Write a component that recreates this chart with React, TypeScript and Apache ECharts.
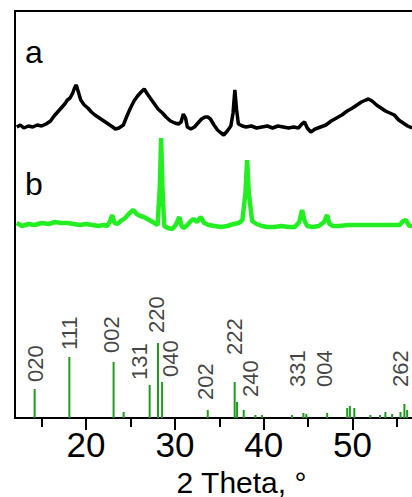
import React, { useEffect, useRef } from 'react';
import * as echarts from 'echarts';

// Curve a (black) – 2θ and offset intensity
const aTheta = [12.2, 12.6, 13.0, 13.5, 14.0, 14.5, 15.0, 15.5, 16.0, 16.4, 16.8, 17.2, 17.6, 17.9, 18.2, 18.5, 18.7, 18.9, 19.1, 19.4, 19.8, 20.2, 20.6, 21.0, 21.5, 22.0, 22.5, 23.0, 23.3, 23.7, 24.2, 24.6, 25.0, 25.4, 25.8, 26.2, 26.55, 26.9, 27.3, 27.7, 28.1, 28.6, 29.0, 29.5, 30.0, 30.4, 30.7, 30.95, 31.2, 31.4, 31.8, 32.2, 32.6, 33.0, 33.4, 33.7, 34.0, 34.4, 34.8, 35.2, 35.5, 35.9, 36.3, 36.55, 36.75, 36.95, 37.15, 37.6, 38.0, 38.6, 39.2, 39.8, 40.4, 41.0, 41.6, 42.2, 42.8, 43.4, 43.9, 44.3, 44.6, 44.9, 45.3, 45.8, 46.4, 47.0, 47.6, 48.2, 48.8, 49.4, 50.0, 50.5, 51.0, 51.5, 51.8, 52.2, 52.7, 53.2, 53.7, 54.2, 54.7, 55.2, 55.7, 56.2, 56.7];
const aIntensity = [291, 293, 290, 292, 291, 293, 292, 294, 297, 302, 306, 310, 314, 318, 320, 325, 330, 333, 327, 318, 313, 310, 306, 303, 300, 297, 294, 291, 289, 290, 293, 302, 310, 317, 322, 326, 329, 324, 319, 314, 309, 305, 301, 297, 295, 294, 296, 304, 300, 291, 289, 291, 295, 299, 301, 301, 299, 293, 288, 285, 283, 287, 292, 305, 328, 308, 294, 292, 291, 292, 290, 291, 292, 290, 292, 291, 290, 291, 290, 294, 296, 290, 286, 289, 291, 293, 297, 300, 303, 307, 310, 313, 316, 318, 319, 317, 313, 310, 307, 305, 303, 298, 295, 292, 290];

// Curve b (green)
const bTheta = [12.2, 12.8, 13.5, 14.2, 15.0, 15.8, 16.5, 17.2, 17.9, 18.6, 19.3, 20.0, 20.7, 21.4, 22.0, 22.4, 22.7, 22.95, 23.2, 23.5, 23.9, 24.4, 24.8, 25.3, 25.7, 26.1, 26.5, 26.9, 27.3, 27.7, 28.05, 28.3, 28.45, 28.6, 28.8, 29.2, 29.7, 30.1, 30.5, 30.75, 31.0, 31.4, 31.8, 32.1, 32.5, 32.9, 33.3, 33.8, 34.5, 35.2, 35.9, 36.6, 37.2, 37.6, 37.95, 38.13, 38.32, 38.7, 39.2, 39.8, 40.4, 41.2, 42.0, 42.8, 43.5, 44.0, 44.32, 44.6, 44.9, 45.5, 46.2, 46.8, 47.14, 47.4, 47.8, 48.5, 49.5, 50.5, 51.5, 52.5, 53.5, 54.5, 55.3, 55.7, 56.0, 56.4, 56.7];
const bIntensity = [195, 192, 194, 193, 195, 194, 196, 195, 195, 194, 193, 194, 193, 192, 193, 192, 197, 203, 195, 194, 197, 200, 204, 208, 204, 202, 201, 199, 197, 195, 193, 230, 280, 230, 192, 190, 189, 193, 201, 192, 190, 193, 197, 199, 196, 201, 195, 193, 192, 191, 192, 194, 195, 198, 225, 258, 225, 197, 194, 192, 191, 191, 192, 191, 191, 196, 208, 197, 192, 191, 192, 196, 203, 194, 192, 192, 193, 193, 193, 193, 193, 193, 193, 197, 198, 192, 192];

// Reference pattern sticks
const stickTheta = [14.21, 18.12, 23.1, 24.23, 27.16, 28.1, 28.56, 33.7, 36.73, 37.0, 37.75, 39.07, 39.8, 43.2, 44.47, 44.8, 47.14, 49.4, 49.7, 50.2, 52.0, 53.1, 53.7, 54.46, 55.4, 55.84, 56.15];
const stickHeight = [29, 61, 56, 6, 33, 75, 36, 8, 36, 16, 8, 3, 3, 3, 5, 4, 5, 10, 12, 10, 3, 3, 6, 4, 6, 14, 8];

// hkl labels
const hklLabels = ['020', '111', '002', '131', '220', '040', '202', '222', '240', '331', '004', '262'];
const hklTheta = [14.29, 18.12, 22.85, 26.0, 27.9, 29.5, 33.4, 36.7, 38.5, 43.8, 46.9, 55.35];
const hklBase = [36, 68, 65, 38, 85, 41, 18, 63, 21, 31, 31, 31];

const majorTickLabels = [20, 30, 40, 50];
const majorTicks = [20, 30, 40, 50, 60];
const minorTicks = [15, 25, 35, 45, 55];
const panelLabels = ['a', 'b'];

export default function App() {
  const ref = useRef<HTMLDivElement>(null);
  useEffect(() => {
    const chart = echarts.init(ref.current!, null, { renderer: 'svg' });
    const font = "'Liberation Sans', Arial, sans-serif";
    chart.setOption({
      animation: false,
      grid: {
        left: 15, top: 11, width: 453, height: 407,
        outerBoundsMode: 'none', containLabel: false,
        show: true, borderColor: '#000', borderWidth: 2, backgroundColor: 'transparent',
      },
      xAxis: [
        {
          type: 'value', min: 12, max: 63,
          name: '2 Theta, °', nameLocation: 'middle', nameGap: 35,
          nameTextStyle: { fontSize: 30, lineHeight: 31, color: '#000', fontFamily: font },
          axisLine: { show: true, onZero: false, lineStyle: { color: '#000', width: 2 } },
          axisTick: { show: true, inside: false, length: 12, lineStyle: { color: '#000', width: 2 }, customValues: majorTicks },
          axisLabel: { show: true, customValues: majorTickLabels, fontSize: 35, color: '#000', fontFamily: font, margin: 9 },
          splitLine: { show: false },
        },
        {
          type: 'value', min: 12, max: 63, position: 'bottom',
          axisLine: { show: false },
          axisTick: { show: true, inside: false, length: 9, lineStyle: { color: '#000', width: 2 }, customValues: minorTicks },
          axisLabel: { show: false },
          splitLine: { show: false },
        },
      ],
      yAxis: { type: 'value', min: 0, max: 407, show: false },
      graphic: [
        { type: 'text', x: 25, y: 52, style: { text: panelLabels[0], font: `32px ${font}`, fill: '#000', verticalAlign: 'middle' } },
        { type: 'text', x: 25, y: 184, style: { text: panelLabels[1], font: `32px ${font}`, fill: '#000', verticalAlign: 'middle' } },
      ],
      series: [
        {
          type: 'bar', xAxisIndex: 0, barWidth: 2,
          itemStyle: { color: '#1f9a1f' },
          data: stickTheta.map((t, i) => [t, stickHeight[i]]),
        },
        {
          type: 'scatter', xAxisIndex: 0, symbolSize: 1,
          itemStyle: { color: 'rgba(0,0,0,0)' },
          label: {
            show: true, formatter: '{b}', position: 'inside', rotate: 90,
            align: 'left', verticalAlign: 'middle',
            fontSize: 22, color: '#111', fontFamily: font,
          },
          data: hklTheta.map((t, i) => ({ name: hklLabels[i], value: [t, hklBase[i]] })),
        },
        {
          type: 'line', xAxisIndex: 0, symbol: 'none', smooth: false,
          lineStyle: { color: '#22ee22', width: 4.5 },
          data: bTheta.map((t, i) => [t, bIntensity[i]]),
        },
        {
          type: 'line', xAxisIndex: 0, symbol: 'none', smooth: false,
          lineStyle: { color: '#000', width: 3.5 },
          data: aTheta.map((t, i) => [t, aIntensity[i]]),
        },
      ],
    });
    return () => chart.dispose();
  }, []);
  return <div ref={ref} style={{ position: 'absolute', left: 0, top: 0, width: 412, height: 497 }} />;
}
